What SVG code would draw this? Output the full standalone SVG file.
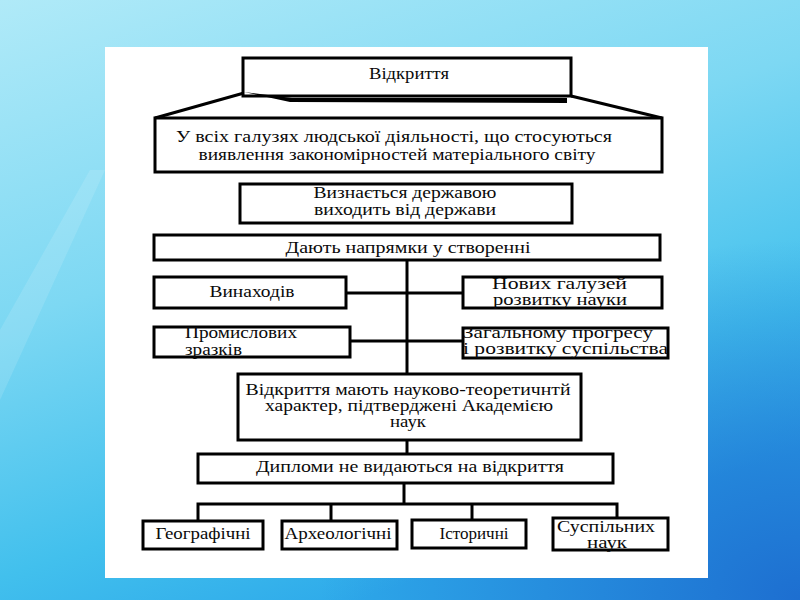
<svg xmlns="http://www.w3.org/2000/svg" width="800" height="600" viewBox="0 0 800 600">
<defs>
<linearGradient id="bg" x1="0" y1="0" x2="0.45" y2="1">
<stop offset="0" stop-color="#b0eaf8"/>
<stop offset="0.45" stop-color="#7dd8f3"/>
<stop offset="0.8" stop-color="#42c0ed"/>
<stop offset="1" stop-color="#2eaaea"/>
</linearGradient>
<radialGradient id="br" cx="1" cy="1" r="0.6">
<stop offset="0" stop-color="#1a64cc" stop-opacity="0.85"/>
<stop offset="1" stop-color="#1a64cc" stop-opacity="0"/>
</radialGradient>
<style>
.box{fill:#ffffff;stroke:#000000;stroke-width:3}
.ln{fill:none;stroke:#000000;stroke-width:3}
.c{text-anchor:middle}
</style>
</defs>
<rect x="0" y="0" width="800" height="600" fill="url(#bg)"/>
<rect x="0" y="0" width="800" height="600" fill="url(#br)"/>
<polygon points="0,330 90,170 105,170 0,400" fill="#ffffff" opacity="0.12"/>
<rect x="105" y="47" width="603" height="531" fill="#ffffff"/>

<g id="connectors">
<line class="ln" x1="244" y1="93" x2="155" y2="118"/>
<line class="ln" x1="571" y1="96" x2="662" y2="118"/>
<line class="ln" x1="407" y1="260" x2="407" y2="374"/>
<line class="ln" x1="346" y1="293" x2="463" y2="293"/>
<line class="ln" x1="350" y1="341" x2="463" y2="341"/>
<line class="ln" x1="407" y1="440" x2="407" y2="454"/>
<line class="ln" x1="404" y1="483" x2="404" y2="504"/>
<polyline class="ln" points="198,521 198,504 617,504 617,518"/>
<line class="ln" x1="331" y1="504" x2="331" y2="521"/>
<line class="ln" x1="472" y1="504" x2="472" y2="520"/>
</g>

<g font-family="Liberation Serif" font-size="16" fill="#0a0a0a">
<g id="n-vidkryttia">
<rect class="box" x="243" y="58" width="328" height="38"/>
<polygon points="244,92 292,98 567,98 567,103 290,102" fill="#000000"/>
<text class="c" x="409" y="79" textLength="80" lengthAdjust="spacingAndGlyphs">Відкриття</text>
</g>

<g id="n-haluzi">
<rect class="box" x="155" y="118" width="507" height="54"/>
<text class="c" x="394" y="142" textLength="436" lengthAdjust="spacingAndGlyphs">У всіх галузях людської діяльності, що  стосуються</text>
<text class="c" x="397" y="160" textLength="397" lengthAdjust="spacingAndGlyphs">виявлення закономірностей матеріального світу</text>
</g>

<g id="n-derzhava">
<rect class="box" x="240" y="184" width="332" height="39"/>
<text class="c" x="405" y="198" textLength="183" lengthAdjust="spacingAndGlyphs">Визнається державою</text>
<text class="c" x="405" y="215" textLength="182" lengthAdjust="spacingAndGlyphs">виходить від держави</text>
</g>

<g id="n-napriamky">
<rect class="box" x="154" y="235" width="506" height="25"/>
<text class="c" x="408" y="253" textLength="245" lengthAdjust="spacingAndGlyphs">Дають напрямки у створенні</text>
</g>

<g id="n-vynakhodiv">
<rect class="box" x="154" y="277" width="192" height="31"/>
<text class="c" x="252" y="297" textLength="85" lengthAdjust="spacingAndGlyphs">Винаходів</text>
</g>

<g id="n-promyslovykh">
<rect class="box" x="154" y="327" width="196" height="30"/>
<text x="185" y="338" textLength="112" lengthAdjust="spacingAndGlyphs">Промислових</text>
<text x="185" y="355" textLength="57" lengthAdjust="spacingAndGlyphs">зразків</text>
</g>

<g id="n-novykh">
<rect class="box" x="463" y="277" width="199" height="31"/>
<text x="492" y="289" textLength="135" lengthAdjust="spacingAndGlyphs">Нових галузей</text>
<text x="493" y="305" textLength="134" lengthAdjust="spacingAndGlyphs">розвитку науки</text>
</g>

<g id="n-prohres">
<rect class="box" x="463" y="328" width="205" height="30"/>
<text x="463" y="338" textLength="190" lengthAdjust="spacingAndGlyphs">Загальному прогресу</text>
<text x="463" y="354" textLength="205" lengthAdjust="spacingAndGlyphs">і розвитку суспільства</text>
</g>

<g id="n-kharakter">
<rect class="box" x="238" y="374" width="343" height="66"/>
<text class="c" x="408" y="395" textLength="325" lengthAdjust="spacingAndGlyphs">Відкриття мають науково-теоретичнтй</text>
<text class="c" x="409" y="411" textLength="288" lengthAdjust="spacingAndGlyphs">характер, підтверджені Академією</text>
<text class="c" x="408" y="427" textLength="36" lengthAdjust="spacingAndGlyphs">наук</text>
</g>

<g id="n-dyplomy">
<rect class="box" x="198" y="454" width="415" height="29"/>
<text class="c" x="410" y="472" textLength="308" lengthAdjust="spacingAndGlyphs">Дипломи не видаються на відкриття</text>
</g>

<g id="n-heohrafichni">
<rect class="box" x="143" y="521" width="120" height="28"/>
<text class="c" x="203" y="539" textLength="95" lengthAdjust="spacingAndGlyphs">Географічні</text>
</g>

<g id="n-arkheolohichni">
<rect class="box" x="282" y="521" width="115" height="28"/>
<text class="c" x="338" y="539" textLength="107" lengthAdjust="spacingAndGlyphs">Археологічні</text>
</g>

<g id="n-istorychni">
<rect class="box" x="412" y="520" width="114" height="28"/>
<text class="c" x="474" y="539" textLength="69" lengthAdjust="spacingAndGlyphs">Історичні</text>
</g>

<g id="n-suspilnykh">
<rect class="box" x="553" y="518" width="115" height="32"/>
<text class="c" x="606" y="532" textLength="98" lengthAdjust="spacingAndGlyphs">Суспільних</text>
<text class="c" x="607" y="548" textLength="40" lengthAdjust="spacingAndGlyphs">наук</text>
</g>
</g>
</svg>
